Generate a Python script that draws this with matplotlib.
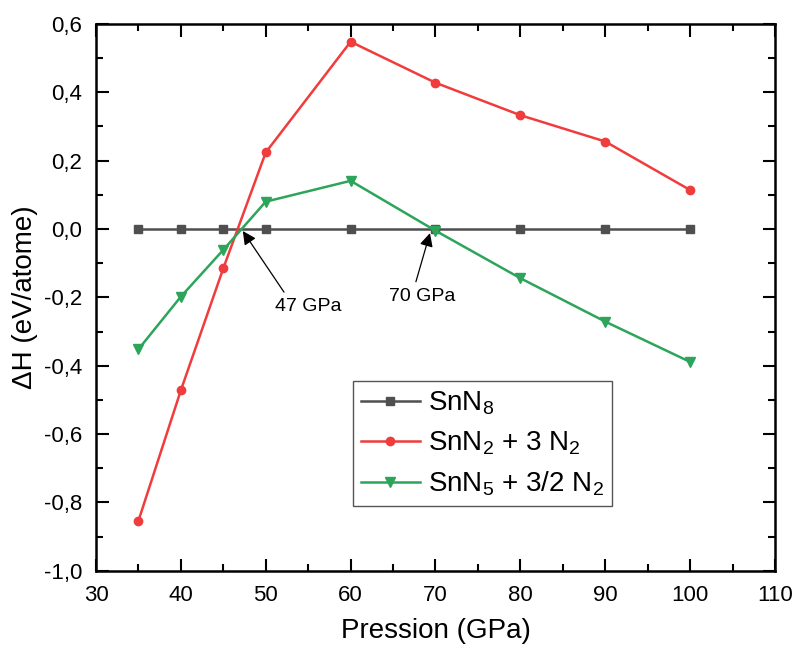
import matplotlib
matplotlib.use("Agg")
import matplotlib.pyplot as plt
from matplotlib.ticker import MultipleLocator, FuncFormatter

plt.rcParams['font.family'] = ['Liberation Sans', 'DejaVu Sans']
plt.rcParams['mathtext.fontset'] = 'custom'
plt.rcParams['mathtext.rm'] = 'Liberation Sans'
plt.rcParams['mathtext.default'] = 'regular'

# data
pression = [35, 40, 45, 50, 60, 70, 80, 90, 100]
snn8 = [0, 0, 0, 0, 0, 0, 0, 0, 0]
snn2_3n2 = [-0.854, -0.472, -0.115, 0.224, 0.548, 0.428, 0.333, 0.256, 0.114]
snn5_32n2 = [-0.352, -0.198, -0.061, 0.080, 0.141, -0.005, -0.144, -0.271, -0.389]
labels = ['SnN$_8$', 'SnN$_2$ + 3 N$_2$', 'SnN$_5$ + 3/2 N$_2$']

fig = plt.figure(figsize=(7.96, 6.48), dpi=100)
ax = fig.add_axes([0.1206, 0.1193, 0.853, 0.8437])

ax.plot(pression, snn8, '-s', color='#4f4f4f', lw=1.8, ms=5.5, label=labels[0])
ax.plot(pression, snn2_3n2, '-o', color='#f03c3c', lw=1.8, ms=6, label=labels[1])
ax.plot(pression, snn5_32n2, '-v', color='#2ca55a', lw=1.8, ms=6.5, label=labels[2])

ax.set_xlim(30, 110)
ax.set_ylim(-1.0, 0.6)
ax.xaxis.set_major_locator(MultipleLocator(10))
ax.xaxis.set_minor_locator(MultipleLocator(5))
ax.yaxis.set_major_locator(MultipleLocator(0.2))
ax.yaxis.set_minor_locator(MultipleLocator(0.1))
ax.yaxis.set_major_formatter(FuncFormatter(lambda v, p: f"{v:.1f}".replace('.', ',').replace('-0,0', '0,0')))

ax.tick_params(which='both', direction='in', top=True, right=True, width=1.5, labelsize=16, pad=10)
ax.tick_params(which='major', length=9)
ax.tick_params(which='minor', length=5)
for s in ax.spines.values():
    s.set_linewidth(1.8)

ax.set_xlabel('Pression (GPa)', fontsize=20, labelpad=9)
ax.set_ylabel('ΔH (eV/atome)', fontsize=20, labelpad=4)

arrow = dict(arrowstyle='-|>', color='black', lw=0.9, mutation_scale=20)
ax.annotate('47 GPa', xy=(47.3, -0.006), xytext=(55.0, -0.228), fontsize=14,
            ha='center', va='center',
            arrowprops=dict(arrow, shrinkA=3, shrinkB=0, relpos=(0.2, 1.0)))
ax.annotate('70 GPa', xy=(69.35, -0.012), xytext=(68.4, -0.199), fontsize=14,
            ha='center', va='center',
            arrowprops=dict(arrow, shrinkA=3, shrinkB=0, relpos=(0.38, 1.0)))

leg = ax.legend(loc='upper left', bbox_to_anchor=(0.3785, 0.347), borderaxespad=0, fontsize=20,
                handlelength=2.1, handletextpad=0.3, labelspacing=0.45,
                borderpad=0.3, fancybox=False, edgecolor='#555555', framealpha=1)
leg.get_frame().set_linewidth(1.0)

fig.savefig('out.png', dpi=100)
